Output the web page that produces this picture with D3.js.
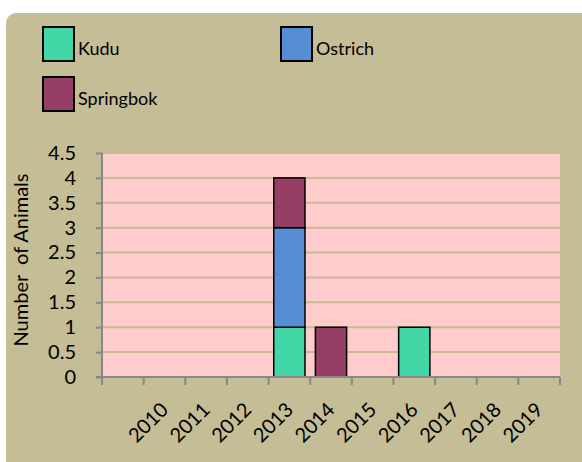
<!doctype HTML>
<html>
<head>
<script src="https://d3js.org/d3.v7.min.js"></script>
<style>
  body { margin: 0; background: #fff; }
  text { font-family: Lato, "Open Sans", sans-serif; fill: #000; }
</style>
</head>
<body>
<script>
    // data
    var years = ["", "2010", "2011", "2012", "2013", "2014", "2015", "2016", "2017", "2018", "2019"];
    var kudu = [0, 0, 0, 0, 1, 0, 0, 1, 0, 0, 0];
    var ostrich = [0, 0, 0, 0, 2, 0, 0, 0, 0, 0, 0];
    var springbok = [0, 0, 0, 0, 1, 1, 0, 0, 0, 0, 0];
    var seriesNames = ["Kudu", "Ostrich", "Springbok"];
    var seriesColors = ["#43d6a7", "#568ed6", "#963e66"];
    var yTicks = [0, 0.5, 1, 1.5, 2, 2.5, 3, 3.5, 4, 4.5];

    var W = 582, H = 462;
    var plot = {left: 102, right: 560, top: 153, bottom: 377};

    var svg = d3.select("body").append("svg")
        .attr("width", W).attr("height", H);

    // chart area background
    svg.append("rect")
        .attr("x", 6).attr("y", 13)
        .attr("width", W + 20).attr("height", H + 20)
        .attr("rx", 10)
        .attr("fill", "#c5bd96");

    var table = years.map(function(y, i) {
        return {year: y, Kudu: kudu[i], Ostrich: ostrich[i], Springbok: springbok[i]};
    });
    var stacked = d3.stack().keys(seriesNames)(table);

    var x = d3.scaleBand().domain(years)
        .range([plot.left, plot.right]).paddingInner(0.25).paddingOuter(0.125);
    var y = d3.scaleLinear().domain([0, 4.5]).range([plot.bottom, plot.top]);
    var color = d3.scaleOrdinal().domain(seriesNames).range(seriesColors);

    // plot background
    svg.append("rect")
        .attr("x", plot.left).attr("y", plot.top)
        .attr("width", plot.right - plot.left).attr("height", plot.bottom - plot.top)
        .attr("fill", "#ffcccc");

    // gridlines
    svg.append("g").selectAll("line")
        .data(yTicks.filter(function(d) { return d > 0; }))
        .enter().append("line")
        .attr("x1", plot.left).attr("x2", plot.right)
        .attr("y1", function(d) { return y(d); })
        .attr("y2", function(d) { return y(d); })
        .attr("stroke", "#c9b995").attr("stroke-width", 2);

    // bars
    svg.append("g").selectAll("g")
        .data(stacked)
        .enter().append("g")
        .attr("fill", function(d) { return color(d.key); })
        .selectAll("rect")
        .data(function(d) { return d.filter(function(p) { return p[1] - p[0] > 0; }); })
        .enter().append("rect")
        .attr("x", function(d) { return x(d.data.year); })
        .attr("y", function(d) { return y(d[1]); })
        .attr("width", x.bandwidth())
        .attr("height", function(d) { return y(d[0]) - y(d[1]); })
        .attr("stroke", "#000").attr("stroke-width", 1.5);

    // y axis
    var yAxis = svg.append("g")
        .attr("transform", "translate(" + plot.left + ",0)")
        .call(d3.axisLeft(y).tickValues(yTicks).tickSize(6).tickPadding(20)
            .tickFormat(function(d) { return d; }));
    yAxis.selectAll("path, line").attr("stroke", "#888").attr("stroke-width", 2);
    yAxis.select(".domain").attr("d", "M0," + plot.top + "V" + plot.bottom);
    yAxis.selectAll("text").attr("font-size", "20px").attr("font-family", "Lato, sans-serif");

    // x axis: ticks on band boundaries
    var xg = svg.append("g").attr("transform", "translate(0," + plot.bottom + ")");
    xg.append("line").attr("x1", plot.left - 6).attr("x2", plot.right)
        .attr("stroke", "#888").attr("stroke-width", 2);
    var bounds = d3.range(years.length + 1).map(function(i) { return plot.left + i * (plot.right - plot.left) / years.length; });
    xg.selectAll(".tick").data(bounds).enter().append("line")
        .attr("x1", function(d) { return d; }).attr("x2", function(d) { return d; })
        .attr("y1", 0).attr("y2", 8)
        .attr("stroke", "#888").attr("stroke-width", 2);
    xg.selectAll(".lbl").data(years.filter(function(d) { return d !== ""; }))
        .enter().append("text")
        .attr("text-anchor", "end")
        .attr("font-size", "20px")
        .attr("transform", function(d) {
            return "translate(" + (x(d) + x.bandwidth() / 2 + 5) + ",34) rotate(-45)";
        })
        .text(function(d) { return d; });

    // y axis title
    svg.append("text")
        .attr("transform", "translate(28," + ((plot.top + plot.bottom) / 2 - 5) + ") rotate(-90)")
        .attr("text-anchor", "middle")
        .attr("font-size", "20px")
        .style("white-space", "pre")
        .text("Number  of Animals");

    // legend
    var legendPos = [[43, 27], [281, 27], [43, 77]];
    var lg = svg.append("g").selectAll("g")
        .data(seriesNames).enter().append("g")
        .attr("transform", function(d, i) { return "translate(" + legendPos[i][0] + "," + legendPos[i][1] + ")"; });
    lg.append("rect")
        .attr("width", 31).attr("height", 34)
        .attr("fill", function(d) { return color(d); })
        .attr("stroke", "#000").attr("stroke-width", 2);
    lg.append("text")
        .attr("x", 35).attr("y", 28)
        .attr("font-size", "18px")
        .text(function(d) { return d; });
</script>
</body>
</html>
